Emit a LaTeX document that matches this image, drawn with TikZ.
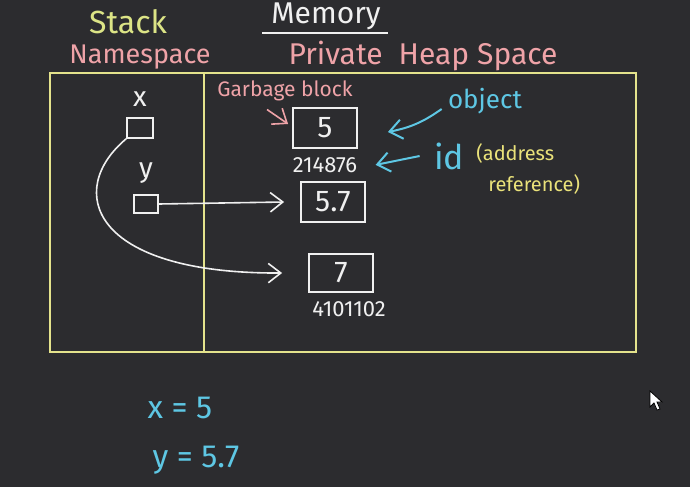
\documentclass[tikz,border=0pt]{standalone}
\usepackage{fontspec}
\setmainfont{Fira Sans}
\usetikzlibrary{arrows.meta,positioning}
\definecolor{board}{HTML}{2C2C2F}
\definecolor{chalk}{HTML}{F0F0F0}
\definecolor{frameyl}{HTML}{E4E38C}
\definecolor{stackyl}{HTML}{DCE486}
\definecolor{heappk}{HTML}{EFA3A8}
\definecolor{notecy}{HTML}{5EC7E4}
\definecolor{noteyl}{HTML}{EAE27A}

\begin{document}
\begin{tikzpicture}[x=0.5pt,y=-0.5pt,font=\fontsize{14}{16}\selectfont,
  title/.style={inner sep=0pt,font=\fontsize{15}{17}\selectfont},
  cell/.style={draw=chalk,line width=0.9pt,minimum width=32pt,minimum height=20pt,
               inner sep=0pt,text=chalk,font=\fontsize{15}{17}\selectfont},
  ref/.style={draw=chalk,line width=0.8pt,minimum width=13pt,minimum height=10pt,inner sep=0pt},
  addr/.style={text=chalk,inner sep=0pt,font=\fontsize{11}{13}\selectfont},
  note/.style={inner sep=0pt,font=\fontsize{10.5}{12}\selectfont},
  arr/.style={-{Straight Barb[length=2.2mm,width=3.4mm]},line width=0.8pt,draw=chalk},
  cyarr/.style={arr,draw=notecy,line width=1pt}]

  % board
  \fill[board] (0,0) rectangle (690,487);

  % headings
  \node[title,text=stackyl,font=\fontsize{16}{18}\selectfont] (stackttl) at (128,22) {Stack};
  \node[title,text=chalk] (memttl) at (326,16) {Memory};
  \draw[chalk,line width=0.9pt] (262,33) -- (388,33);
  \node[title,text=heappk,font=\fontsize{13.5}{16}\selectfont] (nsttl) at (140,57) {Namespace};
  \node[title,text=heappk] (heapttl) at (423,56) {Private\ \ Heap Space};

  % frame and divider
  \draw[frameyl,line width=1pt] (50,73) rectangle (636,352);
  \draw[frameyl,line width=1pt] (204,73) -- (204,352);

  % names on the stack
  \node[ref] (xbox) at (140,128) {};
  \node[text=chalk,inner sep=0pt,above=5pt of xbox] (xlbl) {x};
  \node[ref,minimum width=12pt,minimum height=9pt] (ybox) at (146,204) {};
  \node[text=chalk,inner sep=0pt,above=5pt of ybox] (ylbl) {y};

  % objects on the heap
  \node[cell] (obj5) at (325,128) {5};
  \node[addr,below=4pt of obj5] (id5) {214876};
  \node[cell] (obj57) at (333,202) {5.7};
  \node[cell,minimum height=19pt] (obj7) at (341,273) {7};
  \node[addr,below=4pt of obj7,xshift=4pt] (id7) {4101102};

  \node[note,text=heappk] (gbg) at (285,91) {Garbage block};
  \draw[arr,draw=heappk] ([xshift=-9pt,yshift=-4pt]gbg.south) -- ([xshift=-2pt,yshift=2pt]obj5.west);

  % references
  \draw[arr] (ybox.east) -- ([xshift=-8pt]obj57.west);
  \draw[arr] (xbox.south west) .. controls (65,190) and (90,274) .. ([xshift=-13pt]obj7.west);

  % side notes
  \node[note,text=notecy,font=\fontsize{13}{15}\selectfont] (objnote) at (485,101) {object};
  \draw[cyarr] ([xshift=-3pt,yshift=-4pt]objnote.west) to[bend left=12] ([xshift=15pt,yshift=-2pt]obj5.east);
  \node[note,text=notecy,font=\fontsize{17}{19}\selectfont] (idnote) at (449,156) {id};
  \draw[cyarr] ([xshift=-7pt]idnote.west) -- ([xshift=9pt]id5.east);
  \node[note,text=noteyl,anchor=west,align=left,font=\fontsize{10}{15.5}\selectfont] (addrnote) at (476,169)
    {(address\\\hspace*{6pt}reference)};

  % values
  \node[note,text=notecy,font=\fontsize{16}{18}\selectfont] (xeq) at (180,408) {x = 5};
  \node[note,text=notecy,font=\fontsize{16}{18}\selectfont] (yeq) at (196,460) {y = 5.7};

  % pointer
  \filldraw[fill=white,draw=black,line width=0.4pt]
    (650,391) -- (650,407) -- (654,403) -- (657,410) -- (660,409) -- (657,402) -- (662,402) -- cycle;
\end{tikzpicture}
\end{document}
